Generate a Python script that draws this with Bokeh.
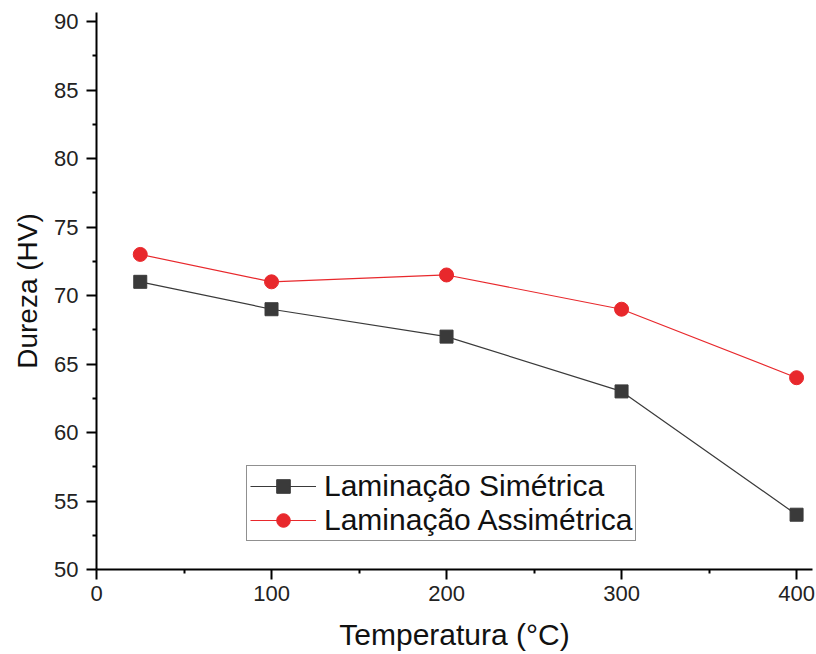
from bokeh.plotting import figure
from bokeh.embed import file_html
from bokeh.resources import INLINE
from bokeh.models import Range1d, FixedTicker

temperatura = [25, 100, 200, 300, 400]
simetrica = [71, 69, 67, 63, 54]
assimetrica = [73, 71, 71.5, 69, 64]
x_ticks = [0, 100, 200, 300, 400]
x_minor = [50, 150, 250, 350]
y_ticks = [50, 55, 60, 65, 70, 75, 80, 85, 90]
y_minor = [52.5, 57.5, 62.5, 67.5, 72.5, 77.5, 82.5, 87.5]

FONT = "Liberation Sans"

p = figure(width=816, height=654, output_backend="svg", toolbar_location=None,
           x_range=Range1d(0, 409.1), y_range=Range1d(50, 90.66),
           min_border_left=96, min_border_right=4, min_border_top=12, min_border_bottom=85)
p.outline_line_color = None
p.xgrid.visible = False
p.ygrid.visible = False
p.background_fill_color = "white"

c_sim = "#3a3a3a"
c_asim = "#e8282c"

p.line(temperatura, simetrica, line_color=c_sim, line_width=1.2, legend_label="Laminação Simétrica")
p.scatter(temperatura, simetrica, marker="square", size=13, fill_color=c_sim, line_color=c_sim,
          legend_label="Laminação Simétrica")
p.line(temperatura, assimetrica, line_color=c_asim, line_width=1.2, legend_label="Laminação Assimétrica")
p.scatter(temperatura, assimetrica, marker="circle", size=14, fill_color=c_asim, line_color=c_asim,
          legend_label="Laminação Assimétrica")

for ax in (p.xaxis[0], p.yaxis[0]):
    ax.axis_line_width = 2
    ax.axis_line_color = "black"
    ax.major_tick_line_width = 2
    ax.minor_tick_line_width = 2
    ax.major_tick_in = 0
    ax.major_tick_out = 10
    ax.minor_tick_in = 0
    ax.minor_tick_out = 4
    ax.major_label_text_font = FONT
    ax.major_label_text_font_size = "22px"
    ax.major_label_text_color = "#222222"
    ax.axis_label_text_font = FONT
    ax.axis_label_text_font_style = "normal"
    ax.axis_label_text_color = "#111111"

p.xaxis.ticker = FixedTicker(ticks=x_ticks, minor_ticks=x_minor)
p.yaxis.ticker = FixedTicker(ticks=y_ticks, minor_ticks=y_minor)
p.xaxis.axis_label = "Temperatura (°C)"
p.yaxis.axis_label = "Dureza (HV)"
p.xaxis.axis_label_text_font_size = "30px"
p.yaxis.axis_label_text_font_size = "28px"
p.xaxis.major_label_standoff = 6
p.yaxis.major_label_standoff = 8
p.xaxis.axis_label_standoff = 14
p.yaxis.axis_label_standoff = 8

lg = p.legend[0]
lg.location = (150, 28)
lg.border_line_color = "#222222"
lg.border_line_width = 1
lg.label_text_font = FONT
lg.label_text_font_size = "30px"
lg.label_text_color = "#111111"
lg.glyph_width = 66
lg.glyph_height = 34
lg.label_standoff = 8
lg.label_height = 34
lg.padding = 3
lg.spacing = 0
lg.margin = 0
lg.background_fill_alpha = 1

open("out.html", "w").write(file_html(p, INLINE))
